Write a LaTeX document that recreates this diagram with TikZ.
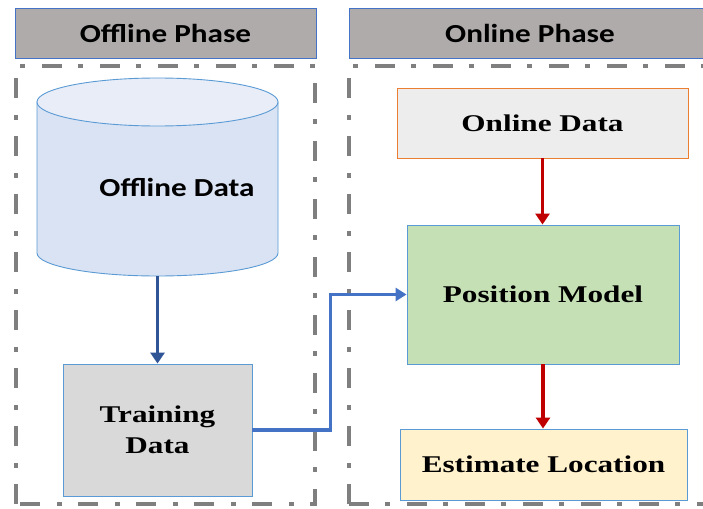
\documentclass[tikz,border=0pt]{standalone}
\usepackage{fontspec}
\usetikzlibrary{arrows.meta}
\newfontfamily\headfont[FakeStretch=1.2]{Carlito}
\newfontfamily\boxfont[FakeStretch=1.3]{Liberation Serif}
\definecolor{hdrgray}{HTML}{AFABAB}
\definecolor{hdrline}{HTML}{4472C4}
\definecolor{framegray}{HTML}{7F7F7F}
\definecolor{lineblue}{HTML}{5B9BD5}
\definecolor{darkblue}{HTML}{2F5597}
\definecolor{midblue}{HTML}{4472C4}
\definecolor{darkred}{HTML}{C00000}
\definecolor{cylbody}{HTML}{DAE3F3}
\definecolor{cyltop}{HTML}{E8EDF7}
\definecolor{trainfill}{HTML}{D9D9D9}
\definecolor{onfill}{HTML}{EDEDED}
\definecolor{onborder}{HTML}{ED7D31}
\definecolor{posfill}{HTML}{C5E0B4}
\definecolor{estfill}{HTML}{FFF2CC}
\tikzset{
  header/.style={draw=hdrline, line width=0.8pt, fill=hdrgray, inner sep=0pt,
    font=\headfont\bfseries\fontsize{26}{30}\selectfont},
  phaseframe/.style={draw=framegray, line width=3.5pt,
    dash pattern=on 20pt off 16pt on 5pt off 17pt},
  block/.style={draw=lineblue, line width=0.9pt, inner sep=0pt, align=center,
    font=\boxfont\bfseries\fontsize{24}{31}\selectfont},
  flowblue/.style={draw=darkblue, line width=3.2pt, -{Triangle[width=14pt,length=11pt]}},
  flowlink/.style={draw=midblue, line width=3.2pt, -{Triangle[width=13pt,length=11pt]}},
  flowred/.style={draw=darkred, line width=3.2pt, -{Triangle[width=14pt,length=11pt]}}
}
\begin{document}
\begin{tikzpicture}[x=1pt, y=-1pt]
\clip (0,0) rectangle (703,508);
\fill[white] (0,0) rectangle (703,508);

% phase headers
\node[header, minimum width=301pt, minimum height=50pt] (offhead) at (165.5,33) {Offline Phase};
\node[header, minimum width=362pt, minimum height=50pt] (onhead) at (530,33) {Online Phase};

% dash-dot phase frames
\draw[phaseframe] (16,504) -- (16,66) -- (315,66) -- (315,504) -- cycle;
\draw[phaseframe] (349,504) -- (349,66) -- (720,66);
\draw[phaseframe] (349,504) -- (720,504);

% offline data store (cylinder)
\node[minimum width=241pt, minimum height=199pt, inner sep=0pt] (offdata) at (157.5,176.5) {};
\draw[draw=lineblue, line width=0.9pt, fill=cylbody]
  (37,102) -- (37,253) arc[start angle=180, end angle=0, x radius=120.5, y radius=23]
  -- (278,102) -- cycle;
\draw[draw=lineblue, line width=0.9pt, fill=cyltop]
  (157.5,102) ellipse[x radius=120.5, y radius=24];
\node[font=\headfont\bfseries\fontsize{26}{30}\selectfont] (offlabel) at (177,187) {Offline Data};

% process blocks
\node[block, fill=trainfill, minimum width=189pt, minimum height=132pt] (train) at (157.5,430) {Training\\Data};
\node[block, draw=onborder, fill=onfill, minimum width=291pt, minimum height=70pt] (ondata) at (542.5,123) {Online Data};
\node[block, fill=posfill, minimum width=272pt, minimum height=139pt] (pos) at (543,294.5) {Position Model};
\node[block, fill=estfill, minimum width=287pt, minimum height=71pt] (est) at (543.5,464.5) {Estimate Location};

% connectors
\draw[flowblue] (offdata.south) -- (train.north);
\draw[flowlink] (train.east) -- ++(78,0) |- (pos.west);
\draw[flowred] (ondata.south) -- (ondata.south |- pos.north);
\draw[flowred] (pos.south) -- (pos.south |- est.north);
\end{tikzpicture}
\end{document}
